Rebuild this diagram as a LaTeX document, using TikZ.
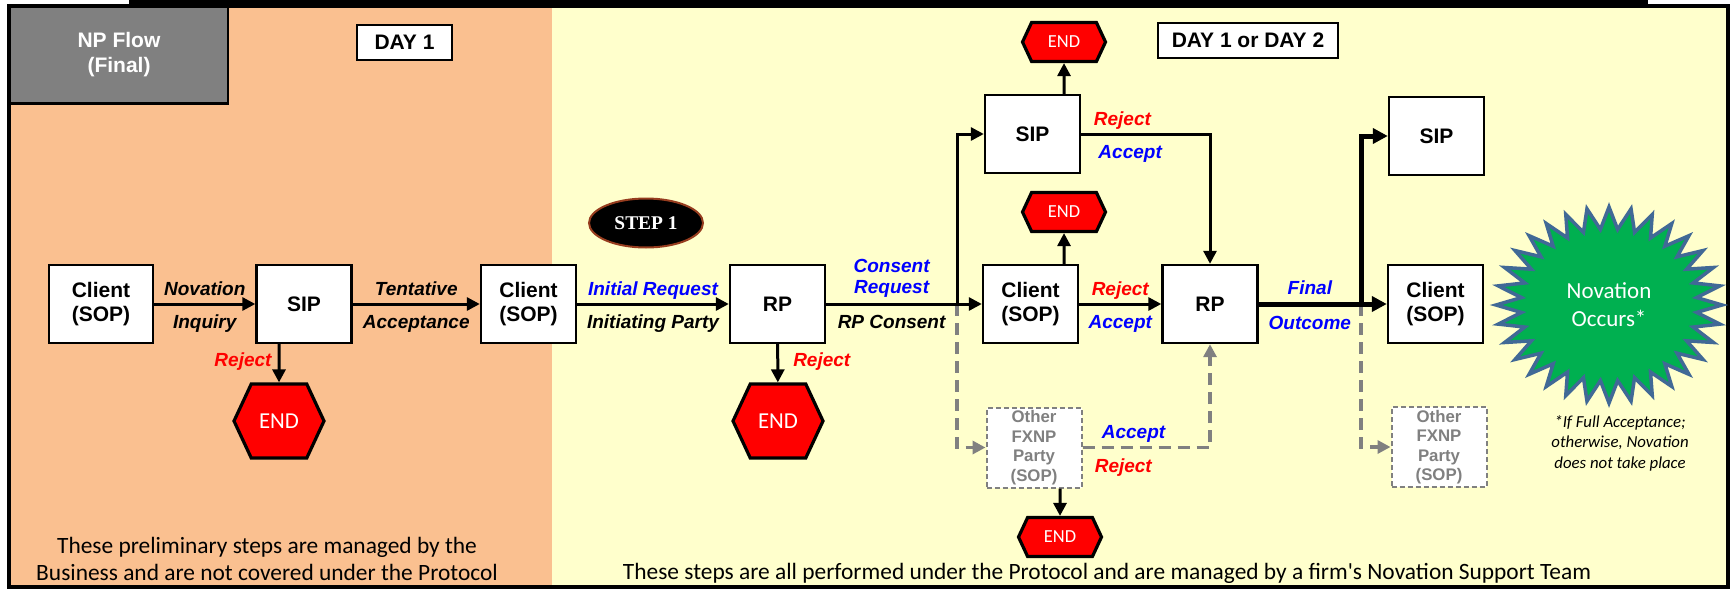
\documentclass[tikz,border=0pt]{standalone}
\usepackage{fontspec}
\setmainfont{Liberation Sans}
\newfontfamily\calibri{Carlito}
\newfontfamily\timesbold{Liberation Serif}
\usepackage{xcolor}
\usepackage{tikz}
\usetikzlibrary{calc}
\usetikzlibrary{arrows.meta}
\usetikzlibrary{positioning}
\usetikzlibrary{shapes.geometric}
\usetikzlibrary{shapes.symbols}

\definecolor{dayone}{RGB}{250,192,144}
\definecolor{daytwo}{RGB}{255,255,204}
\definecolor{hdrgray}{RGB}{128,128,128}
\definecolor{dashgray}{RGB}{128,128,128}
\definecolor{okblue}{RGB}{0,0,255}
\definecolor{nored}{RGB}{255,0,0}
\definecolor{burstgreen}{RGB}{0,176,80}
\definecolor{burstrim}{RGB}{65,105,150}
\definecolor{steprim}{RGB}{150,60,30}

\tikzset{>={Triangle[length=6.5pt,width=6.5pt]}}
\tikzstyle{box} = [draw, line width=1.2pt, fill=white, minimum width=47.5pt, minimum height=39pt, inner sep=1pt, align=center, font=\fontsize{10.5}{12}\selectfont\bfseries]
\tikzstyle{other} = [draw=dashgray, dash pattern=on 2.5pt off 1.5pt, line width=1pt, fill=white, minimum width=47.5pt, minimum height=40pt, inner sep=0pt, align=center, text=dashgray, font=\fontsize{8.4}{9.75}\selectfont\bfseries]
\tikzstyle{endbig} = [signal, signal to=west and east, signal pointer angle=130, draw, line width=1.6pt, fill=nored, text=white, minimum width=45pt, minimum height=37pt, inner sep=0pt, font=\calibri\fontsize{11.4}{12}\selectfont]
\tikzstyle{endsmall} = [endbig, minimum width=41.5pt, minimum height=19.5pt, font=\calibri\fontsize{9.2}{10}\selectfont]
\tikzstyle{lbl} = [inner sep=0pt, text height=7pt, text depth=0pt, font=\fontsize{9.5}{10.5}\selectfont\bfseries\itshape]
\tikzstyle{lbltwo} = [inner sep=0pt, align=center, font=\fontsize{9.5}{10.5}\selectfont\bfseries\itshape]
\tikzstyle{flow} = [->, line width=1.5pt]
\tikzstyle{bigflow} = [-{Triangle[length=7.5pt,width=7.5pt]}, line width=2.5pt]
\tikzstyle{dflow} = [->, draw=dashgray, line width=1.75pt, dash pattern=on 6pt off 3.5pt]

\begin{document}
\begin{tikzpicture}[x=0.5pt, y=-0.5pt]
\useasboundingbox (0,0) rectangle (1732,589);
% the two days
\fill [dayone] (8,6) rectangle (552,587);
\fill [daytwo] (552,6) rectangle (1728,587);
\fill [black] (129,0) rectangle (1648,6);
\draw [line width=2pt] (8.5,6) rectangle (1728,587);

% headers
\node [draw, line width=1.2pt, fill=hdrgray, text=white, minimum width=109pt, minimum height=48.5pt, align=center, font=\fontsize{10.5}{12.5}\selectfont\bfseries] (title) at (119,55) {NP Flow\\(Final)};
\node [draw, line width=1.2pt, fill=white, minimum width=47.5pt, minimum height=17.5pt, font=\fontsize{10.5}{12}\selectfont\bfseries] (day1) at (404.5,42.5) {DAY 1};
\node [draw, line width=1.2pt, fill=white, minimum width=90pt, minimum height=17.5pt, font=\fontsize{10.5}{12}\selectfont\bfseries] (day12) at (1248,40.5) {DAY 1 or DAY 2};
\node [ellipse, draw=steprim, line width=1pt, fill=black, text=white, minimum width=57pt, minimum height=24.5pt, font=\timesbold\fontsize{9.7}{10}\selectfont\bfseries] (step1) at (646,223) {STEP 1};

% parties
\node [box, minimum width=52pt] (client1) at (101,304) {Client\\(SOP)};
\node [box] (sip1) at (304,304) {SIP};
\node [box] (client2) at (528.5,304) {Client\\(SOP)};
\node [box] (rp1) at (777.5,304) {RP};
\node [box] (sip2) at (1032.5,134) {SIP};
\node [box] (client3) at (1030.5,304) {Client\\(SOP)};
\node [box] (rp2) at (1210,304) {RP};
\node [box] (sip3) at (1436.5,136) {SIP};
\node [box] (client4) at (1435.5,304) {Client\\(SOP)};
\node [other] (other1) at (1034,447.5) {Other\\FXNP\\Party\\(SOP)};
\node [other] (other2) at (1439,447) {Other\\FXNP\\Party\\(SOP)};
\node [endbig] (end1) at (279,421) {END};
\node [endbig] (end2) at (778,421) {END};
\node [endsmall] (end3) at (1064,42) {END};
\node [endsmall] (end4) at (1064,212) {END};
\node [endsmall] (end5) at (1060,537) {END};
\coordinate (split1) at (957,304);
\coordinate (split2) at (1361,304);

% other party paths
\draw [dflow] (split1) |- (other1);
\draw [dflow] (other1) -| node [lbl, okblue, pos=0.2, above=3.5pt] {Accept} node [lbl, nored, pos=0.16, below=4.5pt] {Reject} (rp2);
\draw [dflow] (split2) |- (other2);

% main flow
\draw [flow] (client1) -- node [lbl, above=3.5pt] {Novation} node [lbl, below=4.5pt] {Inquiry} (sip1);
\draw [flow] (sip1) -- node [lbl, above=3.5pt] {Tentative} node [lbl, below=4.5pt] {Acceptance} (client2);
\draw [flow] (end1 |- sip1.south) -- node [lbl, nored, left=3pt, pos=0.4] {Reject} (end1);
\draw [flow] (client2) -- node [lbl, okblue, above=3.5pt] {Initial Request} node [lbl, below=4.5pt] {Initiating Party} (rp1);
\draw [flow] (rp1) -- node [lbl, nored, right=7pt, pos=0.4] {Reject} (end2);
\draw [flow] (rp1) -- node [lbltwo, okblue, above=2.75pt] {Consent\\Request} node [lbl, below=4.5pt] {RP Consent} (split1) -- (client3);
\draw [flow] (split1) |- (sip2);
\draw [flow] (end3 |- sip2.north) -- (end3);
\draw [flow] (sip2) -| node [lbl, nored, pos=0.16, above=3.5pt] {Reject} node [lbl, okblue, pos=0.19, below=4.5pt] {Accept} (rp2);
\draw [flow] (end4 |- client3.north) -- (end4);
\draw [flow] (client3) -- node [lbl, nored, above=3.5pt] {Reject} node [lbl, okblue, below=4.5pt] {Accept} (rp2);
\draw [flow] (end5 |- other1.south) -- (end5);
\draw [bigflow] (rp2) -- node [lbl, okblue, above=3.5pt] {Final} node [lbl, okblue, below=4.5pt] {Outcome} (split2) -- (client4);
\draw [bigflow] (split2) |- (sip3);

% outcome
\draw [fill=burstgreen, draw=burstrim, line width=1.75pt] (1722,305)
  \foreach \k in {1,...,63} { -- ({1609+(113-25*mod(\k,2))*cos(\k*5.625)}, {305+(98-22*mod(\k,2))*sin(\k*5.625)}) } -- cycle;
\node [text=white, align=center, font=\calibri\fontsize{11.5}{14}\selectfont] (burst) at (1609,305) {Novation\\Occurs*};
\node [align=center, font=\calibri\itshape\fontsize{8.4}{10.25}\selectfont] (note) at (1620,443) {*If Full Acceptance;\\otherwise, Novation\\does not take place};

% scope notes
\node [align=center, font=\calibri\fontsize{11.7}{13.5}\selectfont] (scope1) at (267,559) {These preliminary steps are managed by the\\Business and are not covered under the Protocol};
\node [font=\calibri\fontsize{11.7}{13.5}\selectfont] (scope2) at (1107,573) {These steps are all performed under the Protocol and are managed by a firm's Novation Support Team};
\end{tikzpicture}
\end{document}
